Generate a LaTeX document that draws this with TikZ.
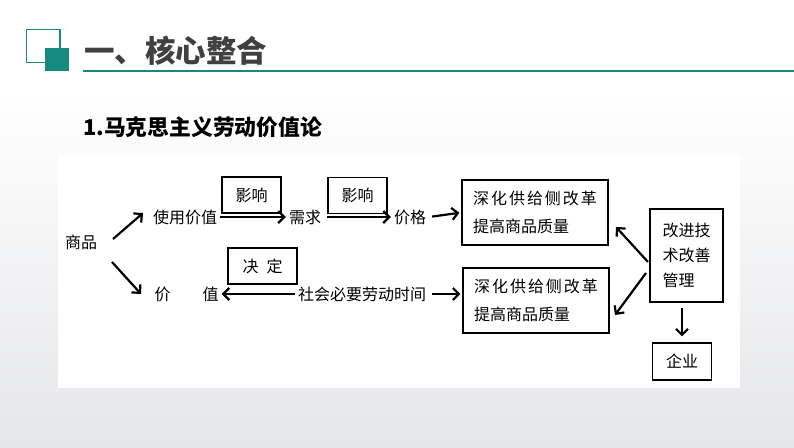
\documentclass[tikz,border=0pt]{standalone}
\usepackage{fontspec}
\setmainfont{Noto Sans CJK SC}
\usetikzlibrary{arrows.meta}
\definecolor{teal1}{RGB}{22,138,128}
\definecolor{bggray}{RGB}{229,230,233}
\definecolor{titlegray}{RGB}{64,64,64}

\begin{document}
\begin{tikzpicture}[
    x=1pt, y=-1pt,
    word/.style={font=\fontsize{16}{19}\selectfont, inner sep=3pt},
    block/.style={rectangle, draw, line width=1.2pt, align=left,
                  font=\fontsize{16}{28}\selectfont,
                  minimum width=146pt, minimum height=65pt},
    tag/.style={rectangle, draw, line width=1.2pt,
                font=\fontsize{16}{19}\selectfont,
                minimum width=59pt, minimum height=36pt},
    arrow/.style={line width=2.2pt, -{Straight Barb[length=6pt,width=12pt]}}
  ]
    \useasboundingbox (0,0) rectangle (794,447);

    % Fondo
    \fill[white] (0,0) rectangle (794,447);
    \shade[top color=white, bottom color=bggray] (0,90) rectangle (794,447);
    \fill[white] (58,155) rectangle (740,388);

    % Titulo
    \draw[teal1, line width=1.4pt] (26.5,29.5) rectangle (60,62.5);
    \fill[teal1] (45,48) rectangle (69,71);
    \draw[teal1, line width=1.5pt] (83,71) -- (794,71);
    \node[anchor=west, text=titlegray, font=\fontsize{30.5}{34}\selectfont\bfseries,
          inner sep=0pt] (title) at (84,51) {一、核心整合};
    \node[anchor=west, font=\fontsize{21.8}{25}\selectfont\bfseries,
          inner sep=0pt] (sub) at (83,127) {1.马克思主义劳动价值论};

    % Palabras
    \node[word] (sp) at (81,242) {商品};
    \node[word] (syjz) at (185,217) {使用价值};
    \node[word] (xq) at (305,217) {需求};
    \node[word] (jg) at (410,217) {价格};
    \node[word] (jz) at (186.5,294) {价\hspace{2em}值};
    \node[word] (shsj) at (362,294) {社会必要劳动时间};

    % Bloques
    \node[block] (gga) at (535,212.5)
      {{\addfontfeature{LetterSpace=12}深化供给侧改革}\\提高商品质量};
    \node[block] (ggb) at (536,300.5)
      {{\addfontfeature{LetterSpace=12}深化供给侧改革}\\提高商品质量};
    \node[block, minimum width=73pt, minimum height=93pt,
          font=\fontsize{16}{25}\selectfont] (gj) at (686.5,255.5)
      {改进技\\术改善\\管理};
    \node[tag, minimum height=37pt] (qy) at (682,361.5) {企业};

    % Etiquetas
    \node[tag] (yx1) at (251.5,195) {影响};
    \node[tag] (yx2) at (357.5,195.5) {影响};
    \node[tag, minimum width=69pt] (jd) at (262.5,266) {决\hspace{0.5em}定};

    % Puntos libres
    \coordinate (sp1) at (113,239);
    \coordinate (sy1) at (143,213);
    \coordinate (sp2) at (112,262);
    \coordinate (jz1) at (141,294);
    \coordinate (gj1) at (648,262);
    \coordinate (ga1) at (616,227);
    \coordinate (gj2) at (646,273);
    \coordinate (gb1) at (615,315);

    % Conexiones
    \draw[arrow] (sp1) -- (sy1);
    \draw[arrow] (sp2) -- (jz1);
    \draw[arrow] (syjz.east) -- (xq.west);
    \draw[arrow, shorten <=3pt] (xq.east) -- (jg.west);
    \draw[arrow, shorten <=3pt, shorten >=2pt] (jg.east) -- (gga.west);
    \draw[arrow] (shsj.west) -- (jz.east);
    \draw[arrow, shorten <=3pt, shorten >=2pt] (shsj.east) -- (ggb.west |- shsj.east);
    \draw[arrow] (gj1) -- (ga1);
    \draw[arrow] (gj2) -- (gb1);
    \draw[arrow, shorten <=5pt, shorten >=6pt] (gj.south -| qy.north) -- (qy.north);
  \end{tikzpicture}
\end{document}
